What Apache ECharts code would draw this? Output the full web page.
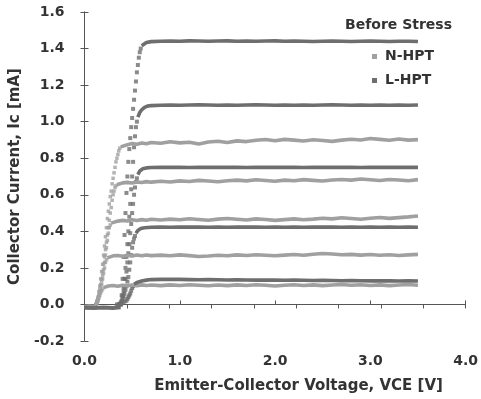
<!DOCTYPE html>
<html>
<head>
<meta charset="utf-8">
<script src="https://cdn.jsdelivr.net/npm/echarts@6/dist/echarts.min.js"></script>
<style>
  html, body { margin: 0; background: #fff; }
  #chart { width: 481px; height: 399px; }
</style>
</head>
<body>
<div id="chart"></div>
<script>
// tick labels
const xTicks = [0, 1, 2, 3, 4];
const legendNames = ["N-HPT", "L-HPT"];

// shared voltage grid for the saturated (flat) part, V
const vGrid = [0.8, 0.9, 1.0, 1.1, 1.2, 1.3, 1.4, 1.5, 1.6, 1.7, 1.8, 1.9, 2.0, 2.1,
  2.2, 2.3, 2.4, 2.5, 2.6, 2.7, 2.8, 2.9, 3.0, 3.1, 3.2, 3.3, 3.4, 3.5];

// off state (both devices), [V, mA]
const offN = [[0.00, -0.012], [0.05, -0.010], [0.10, -0.013], [0.12, -0.010]];
const offL = [[0.00, -0.018], [0.10, -0.020], [0.20, -0.017], [0.30, -0.019], [0.38, -0.016]];

// ---- N-HPT ----
const riseN1 = [[0.12, 0.00], [0.13, 0.02], [0.14, 0.04], [0.15, 0.07], [0.16, 0.10], [0.17, 0.14],
  [0.18, 0.18], [0.19, 0.22], [0.20, 0.27], [0.21, 0.32], [0.22, 0.37], [0.23, 0.42], [0.24, 0.47],
  [0.25, 0.51], [0.26, 0.55], [0.27, 0.59], [0.28, 0.62], [0.29, 0.66], [0.30, 0.69], [0.31, 0.72],
  [0.32, 0.75], [0.33, 0.78], [0.34, 0.80], [0.35, 0.82], [0.36, 0.84], [0.37, 0.855]];
const headN1 = [[0.38, 0.862], [0.40, 0.870], [0.45, 0.874], [0.50, 0.880], [0.55, 0.876],
  [0.60, 0.883], [0.65, 0.879], [0.70, 0.886]];
const flatN1 = [0.882, 0.890, 0.884, 0.887, 0.878, 0.889, 0.893, 0.886, 0.895, 0.891, 0.898, 0.902,
  0.896, 0.903, 0.899, 0.894, 0.901, 0.897, 0.892, 0.899, 0.904, 0.900, 0.908, 0.903, 0.898, 0.905,
  0.899, 0.902];

const riseN2 = [[0.12, 0.00], [0.13, 0.015], [0.14, 0.03], [0.15, 0.05], [0.16, 0.08], [0.17, 0.11],
  [0.18, 0.14], [0.19, 0.18], [0.20, 0.22], [0.21, 0.26], [0.22, 0.30], [0.23, 0.34], [0.24, 0.38],
  [0.25, 0.42], [0.26, 0.46], [0.27, 0.50], [0.28, 0.53], [0.29, 0.57], [0.30, 0.60], [0.31, 0.62],
  [0.32, 0.64], [0.33, 0.65]];
const headN2 = [[0.34, 0.655], [0.36, 0.662], [0.40, 0.665], [0.45, 0.668], [0.50, 0.664],
  [0.55, 0.670], [0.60, 0.667], [0.65, 0.672], [0.70, 0.669]];
const flatN2 = [0.674, 0.670, 0.676, 0.673, 0.679, 0.675, 0.671, 0.677, 0.680, 0.676, 0.682, 0.678,
  0.674, 0.680, 0.677, 0.683, 0.679, 0.675, 0.681, 0.684, 0.680, 0.686, 0.682, 0.678, 0.684, 0.681,
  0.677, 0.683];

const riseN3 = [[0.12, 0.00], [0.13, 0.01], [0.14, 0.03], [0.15, 0.05], [0.16, 0.07], [0.17, 0.10],
  [0.18, 0.13], [0.19, 0.16], [0.20, 0.19], [0.21, 0.23], [0.22, 0.27], [0.23, 0.31], [0.24, 0.35],
  [0.25, 0.39], [0.26, 0.42], [0.27, 0.435]];
const headN3 = [[0.28, 0.445], [0.30, 0.452], [0.35, 0.456], [0.40, 0.460], [0.45, 0.457],
  [0.50, 0.463], [0.55, 0.459], [0.60, 0.464], [0.65, 0.461], [0.70, 0.466]];
const flatN3 = [0.462, 0.467, 0.463, 0.469, 0.465, 0.461, 0.467, 0.470, 0.466, 0.462, 0.468, 0.465,
  0.460, 0.464, 0.468, 0.463, 0.467, 0.472, 0.468, 0.474, 0.470, 0.466, 0.472, 0.476, 0.471, 0.475,
  0.479, 0.484];

const riseN4 = [[0.12, 0.00], [0.13, 0.01], [0.14, 0.02], [0.15, 0.04], [0.16, 0.06], [0.17, 0.08],
  [0.18, 0.11], [0.19, 0.14], [0.20, 0.17], [0.21, 0.20], [0.22, 0.23], [0.23, 0.245]];
const headN4 = [[0.24, 0.255], [0.26, 0.262], [0.30, 0.266], [0.35, 0.268], [0.40, 0.264],
  [0.45, 0.269], [0.50, 0.265], [0.55, 0.270], [0.60, 0.266], [0.65, 0.271], [0.70, 0.267]];
const flatN4 = [0.270, 0.266, 0.271, 0.267, 0.262, 0.265, 0.269, 0.266, 0.271, 0.268, 0.272, 0.269,
  0.266, 0.270, 0.273, 0.269, 0.275, 0.279, 0.276, 0.272, 0.274, 0.270, 0.273, 0.269, 0.272, 0.268,
  0.271, 0.274];

const riseN5 = [[0.12, 0.00], [0.13, 0.01], [0.14, 0.02], [0.15, 0.035], [0.16, 0.05], [0.17, 0.065],
  [0.18, 0.075], [0.19, 0.085]];
const headN5 = [[0.20, 0.092], [0.22, 0.098], [0.25, 0.101], [0.30, 0.104], [0.35, 0.100],
  [0.40, 0.105], [0.45, 0.102], [0.50, 0.106], [0.55, 0.103], [0.60, 0.107], [0.65, 0.104], [0.70, 0.106]];
const flatN5 = [0.103, 0.107, 0.104, 0.108, 0.105, 0.102, 0.106, 0.103, 0.107, 0.104, 0.108, 0.105,
  0.101, 0.105, 0.108, 0.104, 0.107, 0.103, 0.106, 0.109, 0.105, 0.108, 0.104, 0.107, 0.103, 0.106,
  0.109, 0.105];

// ---- L-HPT ----
const riseL1 = [[0.38, 0.00], [0.39, 0.05], [0.40, 0.14], [0.41, 0.26], [0.42, 0.38], [0.43, 0.50],
  [0.44, 0.61], [0.45, 0.70], [0.46, 0.78], [0.47, 0.85], [0.48, 0.91], [0.49, 0.97], [0.50, 1.02],
  [0.51, 1.07], [0.52, 1.12], [0.53, 1.17], [0.54, 1.22], [0.55, 1.27], [0.56, 1.31], [0.57, 1.35],
  [0.58, 1.38], [0.59, 1.40]];
const headL1 = [[0.60, 1.415], [0.62, 1.425], [0.65, 1.433], [0.70, 1.438]];
const flatL1 = [1.440, 1.441, 1.440, 1.442, 1.441, 1.440, 1.441, 1.442, 1.440, 1.441, 1.440, 1.441,
  1.442, 1.440, 1.441, 1.440, 1.439, 1.440, 1.441, 1.440, 1.439, 1.440, 1.441, 1.440, 1.439, 1.440,
  1.440, 1.439];

const riseL2 = [[0.38, 0.00], [0.39, 0.02], [0.40, 0.05], [0.41, 0.09], [0.42, 0.14], [0.43, 0.20],
  [0.44, 0.26], [0.45, 0.33], [0.46, 0.40], [0.47, 0.48], [0.48, 0.55], [0.49, 0.63], [0.50, 0.70],
  [0.51, 0.78], [0.52, 0.86], [0.53, 0.92], [0.54, 0.97], [0.55, 1.00]];
const headL2 = [[0.56, 1.025], [0.58, 1.050], [0.60, 1.065], [0.63, 1.078], [0.66, 1.085], [0.70, 1.088]];
const flatL2 = [1.090, 1.091, 1.090, 1.091, 1.092, 1.091, 1.090, 1.091, 1.090, 1.091, 1.092, 1.091,
  1.090, 1.091, 1.090, 1.091, 1.090, 1.091, 1.092, 1.091, 1.090, 1.091, 1.090, 1.091, 1.090, 1.091,
  1.090, 1.091];

const riseL3 = [[0.38, 0.00], [0.39, 0.015], [0.40, 0.04], [0.41, 0.07], [0.42, 0.10], [0.43, 0.14],
  [0.44, 0.18], [0.45, 0.23], [0.46, 0.28], [0.47, 0.33], [0.48, 0.39], [0.49, 0.44], [0.50, 0.50],
  [0.51, 0.55], [0.52, 0.60], [0.53, 0.64], [0.54, 0.67], [0.55, 0.69]];
const headL3 = [[0.56, 0.710], [0.58, 0.730], [0.61, 0.742], [0.65, 0.747], [0.70, 0.749]];
const flatL3 = [0.750, 0.751, 0.750, 0.749, 0.750, 0.751, 0.750, 0.751, 0.750, 0.749, 0.750, 0.751,
  0.750, 0.751, 0.750, 0.749, 0.750, 0.751, 0.750, 0.751, 0.750, 0.749, 0.750, 0.751, 0.750, 0.751,
  0.750, 0.750];

const riseL4 = [[0.36, 0.00], [0.38, 0.01], [0.40, 0.03], [0.41, 0.045], [0.42, 0.06], [0.43, 0.08],
  [0.44, 0.10], [0.45, 0.125], [0.46, 0.15], [0.47, 0.19], [0.48, 0.23], [0.49, 0.27], [0.50, 0.31],
  [0.51, 0.34], [0.52, 0.36], [0.53, 0.375]];
const headL4 = [[0.54, 0.390], [0.56, 0.405], [0.59, 0.415], [0.63, 0.420], [0.70, 0.422]];
const flatL4 = [0.423, 0.422, 0.423, 0.424, 0.423, 0.422, 0.423, 0.422, 0.423, 0.424, 0.423, 0.422,
  0.423, 0.422, 0.423, 0.422, 0.423, 0.424, 0.423, 0.422, 0.423, 0.422, 0.423, 0.422, 0.423, 0.422,
  0.423, 0.422];

const riseL5 = [[0.34, 0.00], [0.36, 0.00], [0.38, 0.005], [0.40, 0.01], [0.42, 0.015], [0.44, 0.02],
  [0.45, 0.03], [0.46, 0.04], [0.47, 0.05], [0.48, 0.06], [0.49, 0.075], [0.50, 0.09], [0.51, 0.10]];
const headL5 = [[0.52, 0.110], [0.55, 0.120], [0.60, 0.128], [0.65, 0.133], [0.70, 0.136]];
const flatL5 = [0.137, 0.138, 0.137, 0.136, 0.135, 0.136, 0.135, 0.134, 0.135, 0.134, 0.133, 0.134,
  0.133, 0.132, 0.133, 0.132, 0.131, 0.132, 0.131, 0.130, 0.131, 0.130, 0.129, 0.130, 0.129, 0.128,
  0.129, 0.128];

const colorN = "#a0a0a0";
const colorL = "#6e6e6e";
const textColor = "#333";
const font = "DejaVu Sans";

const curvesN = [
  [riseN1, headN1, flatN1], [riseN2, headN2, flatN2], [riseN3, headN3, flatN3],
  [riseN4, headN4, flatN4], [riseN5, headN5, flatN5]
];
const curvesL = [
  [riseL1, headL1, flatL1], [riseL2, headL2, flatL2], [riseL3, headL3, flatL3],
  [riseL4, headL4, flatL4], [riseL5, headL5, flatL5]
];

const makeSeries = (name, color, off, curves, dot) => {
  let out = [];
  curves.forEach(c => {
    out.push({
      name: name, type: "scatter", data: c[0], symbol: "rect", symbolSize: dot,
      itemStyle: { color: color }, silent: true
    });
    out.push({
      name: name, type: "line", data: c[1].concat(vGrid.map((v, i) => [v, c[2][i]])),
      showSymbol: false, lineStyle: { color: color, width: 3.6 }, itemStyle: { color: color },
      silent: true
    });
  });
  out.push({
    name: name, type: "line", data: off, showSymbol: false,
    lineStyle: { color: color, width: 4 }, itemStyle: { color: color }, silent: true
  });
  return out;
};

// small square-and-label key, drawn as graphic text next to the plot
const legendKey = (name, color, top) => ({
  type: "group", left: 372, top: top,
  children: [
    { type: "rect", shape: { x: 0, y: 5, width: 5, height: 5 }, style: { fill: color } },
    {
      type: "text", x: 13, y: 0,
      style: { text: name, fill: textColor, font: "bold 14px '" + font + "'" }
    }
  ]
});

const axisLine = { show: true, lineStyle: { color: "#555", width: 1 } };
const labelStyle = { color: textColor, fontFamily: font, fontWeight: "bold", fontSize: 14 };

let option = {
  animation: false,
  backgroundColor: "#fff",
  title: {
    text: "Before Stress", right: 24, top: 13,
    textStyle: { color: textColor, fontFamily: font, fontWeight: "bold", fontSize: 14 }
  },
  legend: { show: false },
  graphic: [legendKey(legendNames[0], colorN, 49), legendKey(legendNames[1], colorL, 73)],
  grid: { left: 82, right: 8, top: 12, bottom: 57 },
  xAxis: [{
    type: "value", min: 0, max: 4, interval: 1,
    name: "Emitter-Collector Voltage, VCE [V]", nameLocation: "middle", nameGap: 38,
    nameTextStyle: { color: textColor, fontFamily: font, fontWeight: "bold", fontSize: 15, padding: [0, 0, 0, 47] },
    axisLine: axisLine, splitLine: { show: false },
    axisTick: { inside: true, length: 4, lineStyle: { color: "#555" } },
    axisLabel: Object.assign({ margin: 13, formatter: v => xTicks.includes(v) ? v.toFixed(1) : "" }, labelStyle)
  }, {
    type: "value", position: "top", min: 0, max: 4, interval: 4 / 9,
    axisLine: axisLine, splitLine: { show: false }, axisLabel: { show: false },
    axisTick: { inside: true, length: 4, lineStyle: { color: "#555" } }
  }],
  yAxis: [{
    type: "value", min: -0.2, max: 1.6, interval: 0.2,
    name: "Collector Current, Ic [mA]", nameLocation: "middle", nameGap: 60,
    nameTextStyle: { color: textColor, fontFamily: font, fontWeight: "bold", fontSize: 15 },
    axisLine: axisLine, splitLine: { show: false },
    axisTick: { inside: true, length: 4, lineStyle: { color: "#555" } },
    axisLabel: Object.assign({ margin: 20, formatter: v => v.toFixed(1) }, labelStyle)
  }, {
    type: "value", position: "right", min: -0.2, max: 1.6, interval: 0.2,
    axisLine: axisLine, splitLine: { show: false }, axisLabel: { show: false },
    axisTick: { inside: true, length: 4, lineStyle: { color: "#555" } }
  }],
  series: makeSeries("N-HPT", colorN, offN, curvesN, 3.5).concat(makeSeries("L-HPT", colorL, offL, curvesL, 4))
};

let chart = echarts.init(document.getElementById("chart"));
chart.setOption(option);
</script>
</body>
</html>
